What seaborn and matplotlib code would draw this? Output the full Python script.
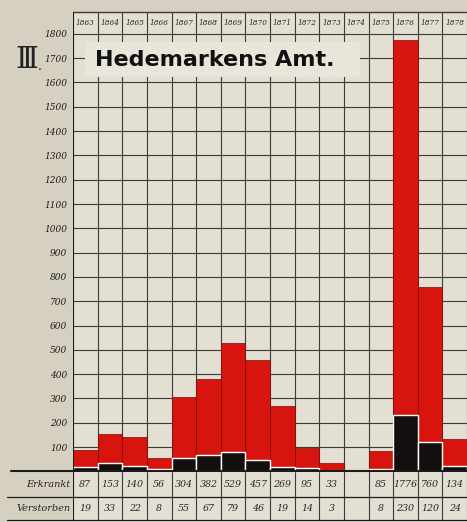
import matplotlib.pyplot as plt
from matplotlib.patches import Rectangle
import seaborn as sns
import pandas as pd
import numpy as np

# Cholera chart, Hedemarkens Amt, 1863-1878
years = ["1863", "1864", "1865", "1866", "1867", "1868", "1869", "1870",
         "1871", "1872", "1873", "1874", "1875", "1876", "1877", "1878"]
erkrankt = [87, 153, 140, 56, 304, 382, 529, 457, 269, 95, 33, np.nan, 85, 1776, 760, 134]
verstorben = [19, 33, 22, 8, 55, 67, 79, 46, 19, 14, 3, np.nan, 8, 230, 120, 24]
erk_labels = ["87", "153", "140", "56", "304", "382", "529", "457", "269", "95", "33", "",
              "85", "1776", "760", "134"]
ver_labels = ["19", "33", "22", "8", "55", "67", "79", "46", "19", "14", "3", "",
              "8", "230", "120", "24"]
yticks = [100, 200, 300, 400, 500, 600, 700, 800, 900, 1000,
          1100, 1200, 1300, 1400, 1500, 1600, 1700, 1800]

df = pd.DataFrame({"Jahr": years, "Erkrankt": erkrankt, "Verstorben": verstorben})

sns.set_style("white")
hand = dict(family="DejaVu Serif", style="italic")

fig = plt.figure(figsize=(4.67, 5.22), dpi=100)
fig.patch.set_facecolor("#d6d0c0")
ax = fig.add_axes([73 / 467, 2 / 522, 394 / 467, 508 / 522])
ax.set_facecolor("#e3dfd3")

sns.barplot(data=df, x="Jahr", y="Erkrankt", order=years, color="#d8140e", width=1,
            saturation=1, edgecolor="#7a0c08", linewidth=0.5, ax=ax, zorder=3)
sns.barplot(data=df, x="Jahr", y="Verstorben", order=years, color="#140f0f", width=1,
            saturation=1, ax=ax, zorder=4)

ax.set_xlim(-0.5, 15.5)
ax.set_ylim(-200, 1890)
for s in ax.spines.values():
    s.set_visible(False)

# grid
grid_c = "#3c3a36"
for v in yticks:
    ax.hlines(v, -0.5, 15.5, color=grid_c, lw=0.8, zorder=1)
for i in range(len(years) + 1):
    ax.vlines(i - 0.5, -200, 1890, color=grid_c, lw=0.8, zorder=1)
ax.vlines(-0.5, -200, 1890, color="#1a1a1a", lw=1.4, zorder=6)
ax.hlines(1890, -0.5, 15.5, color=grid_c, lw=1.0, zorder=1, clip_on=False)
ax.plot([-3.0, 15.5], [0, 0], color="#1a1a1a", lw=1.5, clip_on=False, zorder=6)
ax.plot([-3.2, 15.5], [-106, -106], color="#1a1a1a", lw=0.9, clip_on=False, zorder=6)
ax.plot([-3.2, 15.5], [-200, -200], color="#1a1a1a", lw=0.9, clip_on=False, zorder=6)

ax.set_xticks([])
ax.set_xlabel("")
ax.set_ylabel("")
ax.set_yticks(yticks)
ax.set_yticklabels([str(t) for t in yticks], fontsize=6.5, **hand)
ax.tick_params(axis="y", length=3, width=0.8, pad=1, colors="#1a1a1a")

# year row, table rows
for i, yr in enumerate(years):
    ax.text(i, 1845, yr, fontsize=5.3, ha="center", va="center", **hand)
    ax.text(i, -53, erk_labels[i], fontsize=6.8, ha="center", va="center", **hand)
    ax.text(i, -153, ver_labels[i], fontsize=6.8, ha="center", va="center", **hand)
ax.text(-0.6, -53, "Erkrankt", fontsize=7, ha="right", va="center", **hand)
ax.text(-0.6, -153, "Verstorben", fontsize=7, ha="right", va="center", **hand)

# title box
ax.add_patch(Rectangle((0.0, 1624), 11.17, 143, facecolor="#e8e5da",
                       edgecolor="none", zorder=2))
ax.text(0.4, 1693, "Hedemarkens Amt.", fontsize=16, ha="left", va="center",
        family="DejaVu Sans", weight="bold", color="#111111", zorder=7)
fig.text(15 / 467, 1 - 60 / 522, "\u2162", fontsize=21, ha="left", va="center",
         family="DejaVu Serif", color="#222222")
fig.text(38 / 467, 1 - 70 / 522, ".", fontsize=9, ha="left", va="baseline",
         family="DejaVu Serif", color="#222222")

fig.savefig("out.png", dpi=100, facecolor=fig.get_facecolor())
